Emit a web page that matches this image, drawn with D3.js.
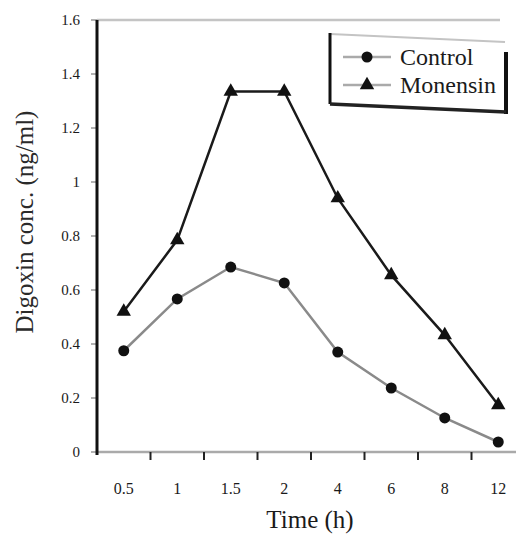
<!DOCTYPE html>
<html>
<head>
<meta charset="utf-8">
<script src="https://cdn.jsdelivr.net/npm/d3@7"></script>
<style>
  html, body { margin: 0; padding: 0; background: #fff; }
  svg { display: block; }
  .ser { font-family: "Liberation Serif", "Times New Roman", serif; }
</style>
</head>
<body>
<svg id="chart" width="516" height="534"></svg>
<script>
// ---- data ----
const categories = ["0.5", "1", "1.5", "2", "4", "6", "8", "12"];
const controlValues = [0.375, 0.567, 0.685, 0.626, 0.37, 0.237, 0.126, 0.037];
const monensinValues = [0.52, 0.785, 1.335, 1.335, 0.94, 0.655, 0.433, 0.174];
const yTicks = [0, 0.2, 0.4, 0.6, 0.8, 1, 1.2, 1.4, 1.6];
const seriesNames = ["Control", "Monensin"];
const xTitle = "Time (h)";
const yTitle = "Digoxin conc. (ng/ml)";

const svg = d3.select("#chart");

const x = d3.scaleBand().domain(categories).range([97, 525]);
const y = d3.scaleLinear().domain([0, 1.6]).range([452, 20]);

// top frame line (gray)
svg.append("line")
  .attr("x1", 97).attr("x2", 500)
  .attr("y1", y(1.6)).attr("y2", y(1.6))
  .attr("stroke", "#c4c4c4").attr("stroke-width", 2.5);

// x axis
const xAxis = svg.append("g").attr("transform", `translate(0,${y(0)})`);
xAxis.append("line").attr("x1", 97).attr("x2", 516).attr("y1", 0).attr("y2", 0)
  .attr("stroke", "#aaa").attr("stroke-width", 2.5);
const boundaries = categories.slice(1).map(c => x(c));
xAxis.selectAll("line.tick").data(boundaries).enter().append("line")
  .attr("class", "tick")
  .attr("x1", d => d).attr("x2", d => d)
  .attr("y1", 0).attr("y2", 8)
  .attr("stroke", "#222").attr("stroke-width", 2);
xAxis.selectAll("text.lab").data(categories).enter().append("text")
  .attr("class", "lab ser")
  .attr("x", d => x(d) + x.bandwidth() / 2)
  .attr("y", 42)
  .attr("text-anchor", "middle")
  .attr("font-size", 16)
  .attr("fill", "#1a1a1a")
  .text(d => d);

// y axis
const yAxis = svg.append("g");
yAxis.selectAll("line.tick").data(yTicks).enter().append("line")
  .attr("class", "tick")
  .attr("x1", 91).attr("x2", 97)
  .attr("y1", d => y(d)).attr("y2", d => y(d))
  .attr("stroke", "#999").attr("stroke-width", 1.5);
yAxis.selectAll("text").data(yTicks).enter().append("text")
  .attr("class", "ser")
  .attr("x", 80)
  .attr("y", d => y(d))
  .attr("dy", "0.35em")
  .attr("text-anchor", "end")
  .attr("font-size", 15)
  .attr("fill", "#1a1a1a")
  .text(d => d3.format("")(d));
yAxis.append("line")
  .attr("x1", 97).attr("x2", 97)
  .attr("y1", y(1.6)).attr("y2", y(0) + 3)
  .attr("stroke", "#111").attr("stroke-width", 3);

// titles
svg.append("text")
  .attr("class", "ser")
  .attr("x", 310).attr("y", 528)
  .attr("text-anchor", "middle")
  .attr("font-size", 25)
  .attr("fill", "#1a1a1a")
  .text(xTitle);
svg.append("text")
  .attr("class", "ser")
  .attr("transform", "translate(33,222) rotate(-90)")
  .attr("text-anchor", "middle")
  .attr("font-size", 25)
  .attr("fill", "#2a2a2a")
  .text(yTitle);

// lines
const cx = d => x(d) + x.bandwidth() / 2;
const lineGen = d3.line().x(d => cx(d.c)).y(d => y(d.v));
const controlData = categories.map((c, i) => ({ c, v: controlValues[i] }));
const monensinData = categories.map((c, i) => ({ c, v: monensinValues[i] }));

svg.append("path").datum(controlData)
  .attr("d", lineGen).attr("fill", "none")
  .attr("stroke", "#8a8a8a").attr("stroke-width", 2.5);
svg.append("path").datum(monensinData)
  .attr("d", lineGen).attr("fill", "none")
  .attr("stroke", "#1a1a1a").attr("stroke-width", 2.5);

// markers
svg.selectAll("circle.ctrl").data(controlData).enter().append("circle")
  .attr("class", "ctrl")
  .attr("cx", d => cx(d.c)).attr("cy", d => y(d.v))
  .attr("r", 5.5).attr("fill", "#111");
const tri = d3.symbol().type(d3.symbolTriangle).size(90);
svg.selectAll("path.mon").data(monensinData).enter().append("path")
  .attr("class", "mon")
  .attr("transform", d => `translate(${cx(d.c)},${y(d.v)})`)
  .attr("d", tri).attr("fill", "#111");

// legend
const lg = svg.append("g");
lg.append("line").attr("x1", 330).attr("x2", 505).attr("y1", 34).attr("y2", 42)
  .attr("stroke", "#c4c4c4").attr("stroke-width", 2);
lg.append("line").attr("x1", 330).attr("x2", 330).attr("y1", 33).attr("y2", 104)
  .attr("stroke", "#111").attr("stroke-width", 3);
lg.append("line").attr("x1", 506).attr("x2", 506).attr("y1", 52).attr("y2", 114)
  .attr("stroke", "#111").attr("stroke-width", 4);
lg.append("line").attr("x1", 330).attr("x2", 506).attr("y1", 104).attr("y2", 112)
  .attr("stroke", "#222").attr("stroke-width", 3.5);

const legendY = [57, 85];
seriesNames.forEach((name, i) => {
  lg.append("line").attr("x1", 343).attr("x2", 391)
    .attr("y1", legendY[i]).attr("y2", legendY[i])
    .attr("stroke", "#aaa").attr("stroke-width", 2.5);
  if (i === 0) {
    lg.append("circle").attr("cx", 367).attr("cy", legendY[i]).attr("r", 5.5).attr("fill", "#111");
  } else {
    lg.append("path").attr("transform", `translate(367,${legendY[i]})`).attr("d", tri).attr("fill", "#111");
  }
  lg.append("text").attr("class", "ser").attr("x", 400).attr("y", legendY[i] + 8)
    .attr("font-size", 24)
    .attr("fill", "#1a1a1a")
    .text(name);
});
</script>
</body>
</html>
